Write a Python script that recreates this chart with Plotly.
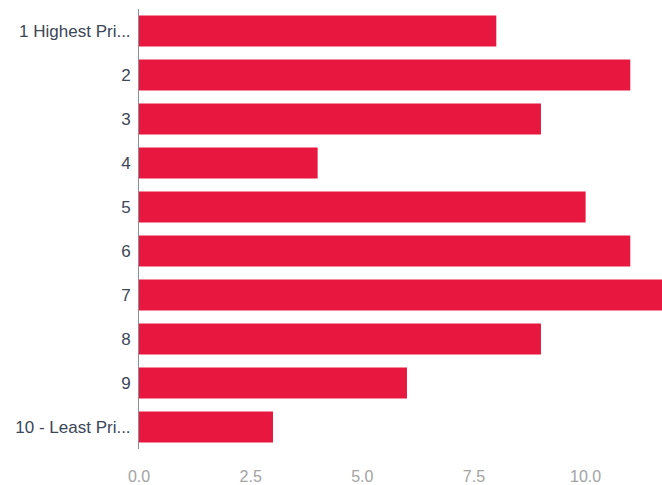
import plotly.graph_objects as go

categories = ["1 Highest Pri...", "2", "3", "4", "5", "6", "7", "8", "9", "10 - Least Pri..."]
values = [8, 11, 9, 4, 10, 11, 12, 9, 6, 3]

fig = go.Figure(go.Bar(
    x=values,
    y=categories,
    orientation="h",
    marker=dict(color="#E8173F", line=dict(width=0)),
))

fig.update_layout(
    width=662, height=485,
    margin=dict(l=139, r=0, t=9, b=34),
    plot_bgcolor="white", paper_bgcolor="white",
    bargap=0.3,
    showlegend=False,
    font=dict(family="Liberation Sans, Arial, sans-serif"),
)
fig.update_xaxes(
    range=[0, 11.71], dtick=2.5, tick0=0, tickformat=".1f",
    showgrid=False, zeroline=False, showline=False,
    ticks="outside", ticklen=13, tickcolor="rgba(0,0,0,0)",
    tickfont=dict(size=16, color="#a3a3a3"),
)
fig.update_yaxes(
    autorange="reversed",
    showgrid=False, showline=True, linecolor="#8a8f96", linewidth=1,
    ticks="", ticklabelstandoff=4,
    tickfont=dict(size=17, color="#3b4657"),
)

fig.write_html(
    "out.html",
    config={"displayModeBar": False},
    post_script="document.body.style.margin='0';document.body.style.overflow='hidden';",
)
